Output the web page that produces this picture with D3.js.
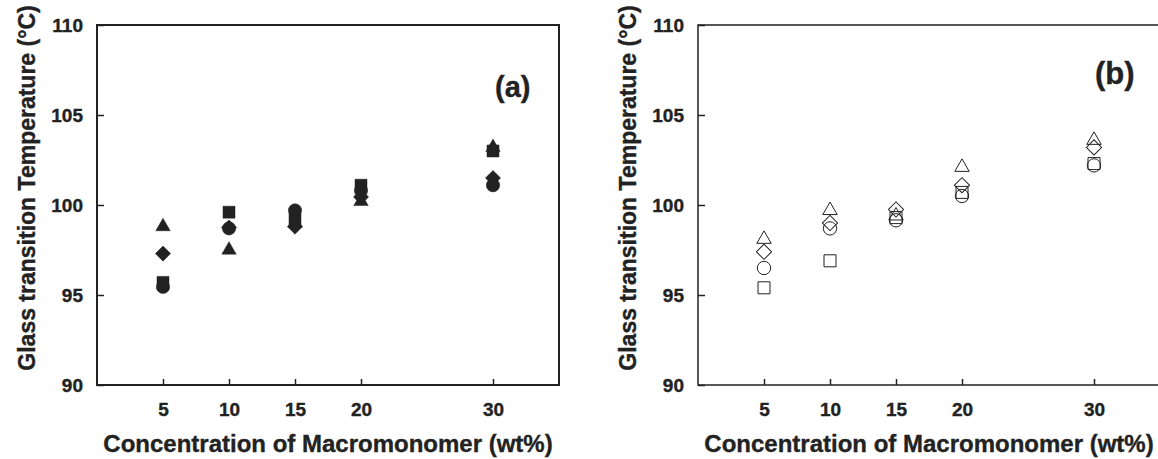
<!DOCTYPE html>
<html>
<head>
<meta charset="utf-8">
<script src="https://cdn.jsdelivr.net/npm/d3@7"></script>
<style>
  body { margin: 0; background: #fff; }
  svg text { font-family: "Liberation Sans", Arial, sans-serif; font-weight: bold; fill: #222; stroke: #222; stroke-width: 0.35px; }
</style>
</head>
<body>
<div id="chart"></div>
<script>
// Data_____________________________________________________
const concentrations = [5, 10, 15, 20, 30];
const xTicks = [5, 10, 15, 20, 30];
const yTicks = [90, 95, 100, 105, 110];

// panel (a), filled markers
const aSquare   = [95.7, 99.6, 99.2, 101.1, 103.0];
const aCircle   = [95.45, 98.7, 99.7, 100.8, 101.1];
const aTriangle = [98.8, 97.5, 99.0, 100.2, 103.2];
const aDiamond  = [97.3, 98.75, 98.8, 100.45, 101.5];

// panel (b), open markers
const bSquare   = [95.4, 96.9, 99.3, 100.7, 102.3];
const bCircle   = [96.5, 98.7, 99.15, 100.5, 102.2];
const bTriangle = [98.1, 99.7, 99.4, 102.1, 103.6];
const bDiamond  = [97.4, 99.0, 99.75, 101.1, 103.2];

const width = 1158;
const height = 459;

const svg = d3.select('#chart')
    .append('svg')
    .attr('width', width)
    .attr('height', height);

// Panels___________________________________________________
function drawPanel(opts) {
    const x = d3.scaleLinear().domain([0, 35]).range([opts.left, opts.left + 462]);
    const y = d3.scaleLinear().domain([90, 110]).range([385, 25]);

    const g = svg.append('g');

    // frame
    g.append('rect')
        .attr('x', x(0))
        .attr('y', y(110))
        .attr('width', x(35) - x(0))
        .attr('height', y(90) - y(110))
        .attr('fill', 'none')
        .attr('stroke', '#222')
        .attr('stroke-width', opts.frame);

    const yAxis = g.append('g')
        .attr('transform', `translate(${x(0)},0)`)
        .call(d3.axisLeft(y).tickValues(yTicks).tickSizeInner(-7).tickSizeOuter(0).tickPadding(14));
    yAxis.select('.domain').remove();
    yAxis.selectAll('line').attr('stroke', '#222').attr('stroke-width', 1.5);
    yAxis.selectAll('text').attr('font-size', 19).attr('font-weight', 'bold').attr('fill', '#222');

    const xAxis = g.append('g')
        .attr('transform', `translate(0,${y(90)})`)
        .call(d3.axisBottom(x).tickValues(xTicks).tickSizeInner(-6).tickSizeOuter(0).tickPadding(18));
    xAxis.select('.domain').remove();
    xAxis.selectAll('line').attr('stroke', '#222').attr('stroke-width', 1.5);
    xAxis.selectAll('text').attr('font-size', 19).attr('font-weight', 'bold').attr('fill', '#222');

    // axis titles
    g.append('text')
        .attr('x', opts.left + 231)
        .attr('y', 452)
        .attr('text-anchor', 'middle')
        .attr('font-size', 24)
        .text('Concentration of Macromonomer (wt%)');

    g.append('text')
        .attr('transform', `translate(${opts.left - 62},188) rotate(-90)`)
        .attr('text-anchor', 'middle')
        .attr('font-size', 23)
        .text('Glass transition Temperature (°C)');

    // markers
    const series = [
        { values: opts.square, shape: d3.symbolSquare, size: 144, rot: 0 },
        { values: opts.circle, shape: d3.symbolCircle, size: 140, rot: 0 },
        { values: opts.triangle, shape: d3.symbolTriangle, size: 90, rot: 0 },
        { values: opts.diamond, shape: d3.symbolSquare, size: 115, rot: 45 }
    ];

    series.forEach(s => {
        g.selectAll(null)
            .data(s.values)
            .enter()
            .append('path')
            .attr('d', d3.symbol().type(s.shape).size(s.size))
            .attr('transform', (d, i) => `translate(${x(concentrations[i])},${y(d)}) rotate(${s.rot})`)
            .attr('fill', opts.filled ? '#222' : 'none')
            .attr('stroke', '#222')
            .attr('stroke-width', opts.filled ? 0.5 : 1);
    });

    g.append('text')
        .attr('x', opts.labelX)
        .attr('y', opts.labelY)
        .attr('font-size', opts.labelSize)
        .text(opts.label);
}

drawPanel({
    left: 97, frame: 2, filled: true,
    square: aSquare, circle: aCircle, triangle: aTriangle, diamond: aDiamond,
    label: '(a)', labelX: 495, labelY: 97, labelSize: 29
});

drawPanel({
    left: 698, frame: 1.5, filled: false,
    square: bSquare, circle: bCircle, triangle: bTriangle, diamond: bDiamond,
    label: '(b)', labelX: 1095, labelY: 84, labelSize: 31
});
</script>
</body>
</html>
